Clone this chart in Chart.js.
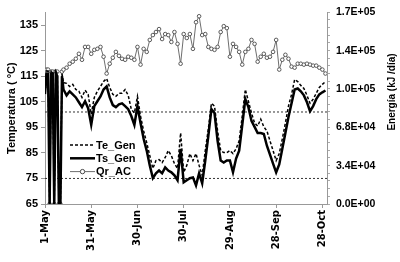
<!DOCTYPE html>
<html><head><meta charset="utf-8">
<script src="https://cdn.jsdelivr.net/npm/chart.js@4.4.1/dist/chart.umd.min.js"></script>
<style>html,body{margin:0;padding:0;background:#fff}#wrap{width:400px;height:262px;position:relative}</style>
</head><body><div id="wrap"><canvas id="c" width="400" height="262"></canvas></div>
<script>
// day offsets from 1-May
const days = [0,1,2,3,4,5,6,7,8,9,10,11,12,14,16,18,20,22,24,26,28,30,32,34,36,38,40,42,44,46,48,50,52,54,56,58,60,62,64,66,68,70,72,74,76,78,80,82,84,86,88,90,92,94,96,98,100,102,104,106,108,110,112,114,116,118,120,122,124,126,128,130,132,134,136,138,140,142,144,146,148,150,152,154,156,158,160,162,164,166,168,170,172,174,176,178,180,182];
const teGen = [111,117,117,65,117,117,65,117,116,65,65,116,112.5,112.2,111.0,111.8,109.8,109.1,106.7,109.5,107.9,100.2,106.7,109.1,111.0,112.9,114.1,110.6,107.9,107.1,108.3,108.3,109.8,107.5,102.1,100.6,107.1,99.4,93.6,89.0,83.9,78.9,82.0,82.4,81.2,83.2,85.9,83.9,80.8,78.9,92.8,77.4,80.1,84.7,82.0,84.7,80.1,76.2,85.9,94.4,104.4,103.3,93.6,85.9,85.1,85.1,85.9,84.7,86.6,89.7,99.4,109.8,105.2,100.6,96.7,95.5,98.2,95.2,93.6,89.7,85.9,82.0,84.7,90.5,96.7,103.3,107.9,113.7,112.9,111.4,110.2,107.5,104.4,106.0,108.3,110.6,111.8,112.9];
const tsGen = [108,116,116,65,116,116,65,116,115,65,65,115,109.8,107.5,109.1,107.9,106.7,104.8,102.9,105.2,102.5,96.0,103.3,105.2,107.1,109.8,111.0,106.7,103.7,102.9,104.0,104.4,103.3,102.1,99.4,95.9,103.3,96.7,90.5,85.9,80.1,75.1,77.0,78.1,77.0,79.3,78.1,77.4,76.2,74.3,86.6,73.5,74.3,75.1,75.4,72.3,77.0,73.1,82.0,91.7,102.1,100.6,89.7,82.0,81.2,82.0,82.0,77.4,82.8,85.9,95.9,106.0,102.9,97.5,95.2,92.8,92.8,92.4,87.8,84.3,80.8,77.4,80.5,86.6,92.8,99.0,104.4,109.8,110.2,109.1,107.5,104.8,101.3,103.3,106.0,107.9,108.7,109.4];
const qrAC = [104300,119200,119200,0,117400,117400,0,117400,117400,0,0,117400,119200,120900,124400,126200,128800,133200,127900,139300,139300,133200,136700,137600,139300,130600,115700,124400,129700,134900,131400,128800,127900,130600,129700,127900,139300,123600,137600,134900,145500,149800,152500,155100,146300,150700,149800,143700,152500,142000,124400,150700,147200,150700,137600,161200,166500,149800,150700,139300,137600,136700,139300,152500,157700,156000,130600,142000,139300,134900,123600,134900,137600,145500,142000,126200,130600,133200,129700,130600,134900,145500,119200,127900,132300,128800,121800,120900,124400,124400,123600,124400,123600,122700,122700,120900,119200,115700];
const refLevels = [101, 75];
const xTickDays = [0,30,60,90,120,150,180];
const xTickLabels = ['1-May','31-May','30-Jun','30-Jul','29-Aug','28-Sep','28-Oct'];
const tempTicks = [65,75,85,95,105,115,125,135];
const energyMajor = [0,34000,68000,102000,136000,170000];
const energyMinorStep = 6800;
const xMin = 0, xMax = 183;

const FONT = '"Liberation Sans", Arial, sans-serif';
Chart.defaults.color = '#000';
Chart.defaults.font.family = FONT;

const fmtE = v => {
  const parts = Number(v).toExponential(1).split('e');
  const n = parseInt(parts[1], 10);
  return parts[0] + 'E' + (n < 0 ? '-' : '+') + String(Math.abs(n)).padStart(2, '0');
};
const pts = arr => days.map((d, i) => ({x: d, y: arr[i]}));

const legendPlugin = {
  id: 'inLegend',
  afterDraw(chart) {
    const c = chart.ctx;
    const items = chart.data.datasets.filter(d => !d.isRef);
    const x0 = 70, x1 = 95, tx = 96, y0 = 145, dy = 13.3;
    items.forEach((ds, i) => {
      const y = y0 + i * dy;
      c.save();
      c.strokeStyle = ds.borderColor;
      c.lineWidth = ds.borderWidth;
      c.setLineDash(ds.borderDash || []);
      c.beginPath(); c.moveTo(x0, y); c.lineTo(x1, y); c.stroke();
      if (ds.pointRadius) {
        c.setLineDash([]);
        c.beginPath(); c.arc((x0 + x1) / 2, y, ds.pointRadius + 0.4, 0, 2 * Math.PI);
        c.fillStyle = '#fff'; c.fill();
        c.lineWidth = 1; c.strokeStyle = ds.pointBorderColor; c.stroke();
      }
      c.fillStyle = '#000';
      c.font = 'bold 11px ' + FONT;
      c.textBaseline = 'middle';
      c.textAlign = 'left';
      c.fillText(ds.label, tx, y + 0.5);
      c.restore();
    });
  }
};
const rightTitlePlugin = {
  id: 'rightTitle',
  afterDraw(chart) {
    const c = chart.ctx;
    c.save();
    c.translate(392, 92);
    c.rotate(-Math.PI / 2);
    c.font = 'bold 10px ' + FONT;
    c.fillStyle = '#000';
    c.textAlign = 'center';
    c.textBaseline = 'middle';
    c.fillText('Energía (kJ /día)', 0, 0);
    c.restore();
  }
};

new Chart(document.getElementById('c'), {
  type: 'line',
  data: {
    datasets: [
      {label: 'Te_Gen', data: pts(teGen), yAxisID: 'yT', borderColor: '#000', borderWidth: 1.5, borderDash: [3, 2], pointRadius: 0, order: 1},
      {label: 'Ts_Gen', data: pts(tsGen), yAxisID: 'yT', borderColor: '#000', borderWidth: 2.5, pointRadius: 0, order: 2},
      {label: 'Qr_AC', data: pts(qrAC), yAxisID: 'yE', borderColor: '#6e6e6e', borderWidth: 1, pointRadius: 1.8, pointBackgroundColor: '#fff', pointBorderColor: '#4a4a4a', pointBorderWidth: 0.9, order: 3},
      ...refLevels.map(v => ({label: '', isRef: true, data: [{x: xMin, y: v}, {x: xMax, y: v}], yAxisID: 'yT', borderColor: '#333', borderWidth: 1, borderDash: [2, 2], pointRadius: 0, order: 4}))
    ]
  },
  options: {
    responsive: false, animation: false, devicePixelRatio: 1,
    layout: {padding: {top: 10, right: 0, left: 0, bottom: 0}},
    plugins: {legend: {display: false}, tooltip: {enabled: false}},
    elements: {line: {tension: 0}},
    scales: {
      x: {
        type: 'linear', min: xMin, max: xMax,
        afterBuildTicks: s => { s.ticks = xTickDays.map(v => ({value: v})); },
        ticks: {autoSkip: false, maxRotation: 90, minRotation: 90, padding: 2,
          callback: (v, i) => xTickLabels[i],
          font: {family: '"DejaVu Sans", sans-serif', weight: 'bold', size: 10}, color: '#000'},
        grid: {drawOnChartArea: false, tickLength: 4, color: '#999'},
        border: {color: '#999'},
        afterFit: s => { s.height = 58; }
      },
      yT: {
        position: 'left', min: 65, max: 140,
        afterBuildTicks: s => { s.ticks = tempTicks.map(v => ({value: v})); },
        ticks: {autoSkip: false, padding: 3, font: {weight: 'bold', size: 11}, color: '#000'},
        grid: {drawOnChartArea: false, tickLength: 4, color: '#999'},
        border: {color: '#999'},
        title: {display: true, text: 'Temperatura ( °C)', color: '#000', font: {weight: 'bold', size: 11}, padding: {top: 5, bottom: 0}},
        afterFit: s => { s.width = 45; }
      },
      yE: {
        position: 'right', min: 0, max: 170000,
        afterBuildTicks: s => {
          const t = [];
          for (let v = 0; v <= 170000; v += energyMinorStep) t.push({value: v});
          s.ticks = t;
        },
        ticks: {autoSkip: false, padding: 6, font: {weight: 'bold', size: 10.5}, color: '#000',
          callback: v => energyMajor.includes(v) ? fmtE(v) : ''},
        grid: {drawOnChartArea: false, tickLength: 3, color: '#aaa'},
        border: {color: '#999'},
        afterFit: s => { s.width = 73; }
      }
    }
  },
  plugins: [legendPlugin, rightTitlePlugin]
});
</script>
</body></html>
